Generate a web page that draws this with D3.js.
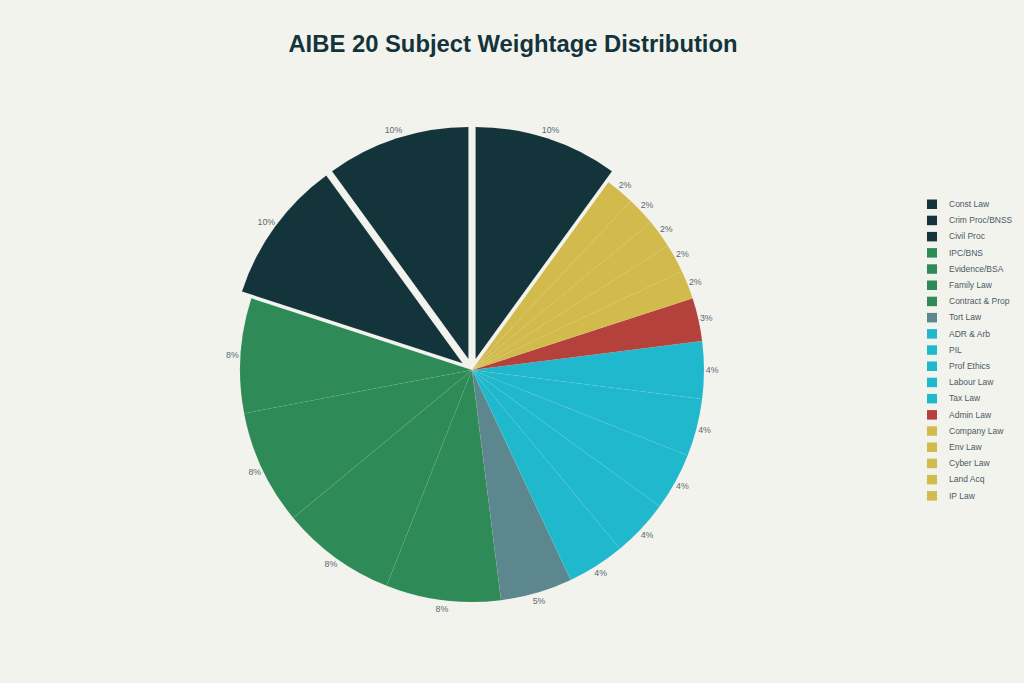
<!DOCTYPE html>
<html>
<head>
<meta charset="utf-8">
<script src="https://cdn.jsdelivr.net/npm/d3@7/dist/d3.min.js"></script>
<style>
	html, body { margin: 0; padding: 0; background: #F3F3EE; }
	svg { display: block; font-family: "Liberation Sans", Arial, sans-serif; }
</style>
</head>
<body>
<svg id="chart" width="1024" height="683"></svg>
<script>
const Width = 1024;
const Height = 683;

// subjects in legend order, with weightage (%) and colour group
const subjects = ["Const Law", "Crim Proc/BNSS", "Civil Proc", "IPC/BNS", "Evidence/BSA", "Family Law", "Contract & Prop",
	"Tort Law", "ADR & Arb", "PIL", "Prof Ethics", "Labour Law", "Tax Law", "Admin Law",
	"Company Law", "Env Law", "Cyber Law", "Land Acq", "IP Law"];
const weights = [10, 10, 10, 8, 8, 8, 8, 5, 4, 4, 4, 4, 4, 3, 2, 2, 2, 2, 2];
const colors = ["#13343B", "#13343B", "#13343B", "#2E8B57", "#2E8B57", "#2E8B57", "#2E8B57",
	"#5D878F", "#1FB8CD", "#1FB8CD", "#1FB8CD", "#1FB8CD", "#1FB8CD", "#B4413C",
	"#D2BA4C", "#D2BA4C", "#D2BA4C", "#D2BA4C", "#D2BA4C"];
const pulled = ["Const Law", "Crim Proc/BNSS", "Civil Proc"];

const data = subjects.map((s, i) => ({ name: s, value: weights[i], color: colors[i] }));

const svg = d3.select("#chart");
const cx = 472, cy = 370, radius = 232;
const pullAmt = 0.05 * radius;

svg.append("text")
	.attr("x", 513).attr("y", 52)
	.attr("text-anchor", "middle")
	.attr("font-size", 23.8).attr("font-weight", "bold")
	.attr("fill", "#13343B")
	.text("AIBE 20 Subject Weightage Distribution");

// slices run counterclockwise starting a little past 12 o'clock
const start = 36 * Math.PI / 180;
const pie = d3.pie().value(d => d.value).sort(null)
	.startAngle(start).endAngle(start - 2 * Math.PI);
const arcs = pie(data);
const arc = d3.arc().innerRadius(0).outerRadius(radius);

const g = svg.append("g").attr("transform", `translate(${cx},${cy})`);

arcs.forEach(a => {
	const mid = (a.startAngle + a.endAngle) / 2;
	const p = pulled.includes(a.data.name) ? pullAmt : 0;
	a.mid = mid;
	a.off = p;
	g.append("path")
		.attr("d", arc(a))
		.attr("transform", `translate(${p * Math.sin(mid)},${-p * Math.cos(mid)})`)
		.attr("fill", a.data.color)
		.attr("stroke", "rgba(243,243,238,0.09)")
		.attr("stroke-width", 0.6);
});

// outside percentage labels
const lblSize = 8.8;
arcs.forEach(a => {
	const txt = a.data.value + "%";
	const w = txt.length * lblSize * 0.58, h = lblSize;
	const rr = radius + a.off + 3;
	const sx = Math.sin(a.mid), cy2 = -Math.cos(a.mid);
	const x = rr * sx + (w / 2) * sx;
	const y = rr * cy2 + (h / 2 + 1) * cy2;
	g.append("text")
		.attr("x", x).attr("y", y)
		.attr("text-anchor", "middle")
		.attr("dominant-baseline", "central")
		.attr("font-size", lblSize)
		.attr("fill", "#5A6B72")
		.text(txt);
});

// legend
const leg = svg.append("g").attr("transform", "translate(927,204)");
const rows = leg.selectAll("g").data(data).enter().append("g")
	.attr("transform", (d, i) => `translate(0,${i * 16.2})`);
rows.append("rect").attr("x", 0).attr("y", -4.5).attr("width", 10).attr("height", 9.5)
	.attr("fill", d => d.color);
rows.append("text").attr("x", 22).attr("y", 0)
	.attr("dominant-baseline", "central")
	.attr("font-size", 8.5)
	.attr("fill", "#4A5A62")
	.text(d => d.name);
</script>
</body>
</html>
